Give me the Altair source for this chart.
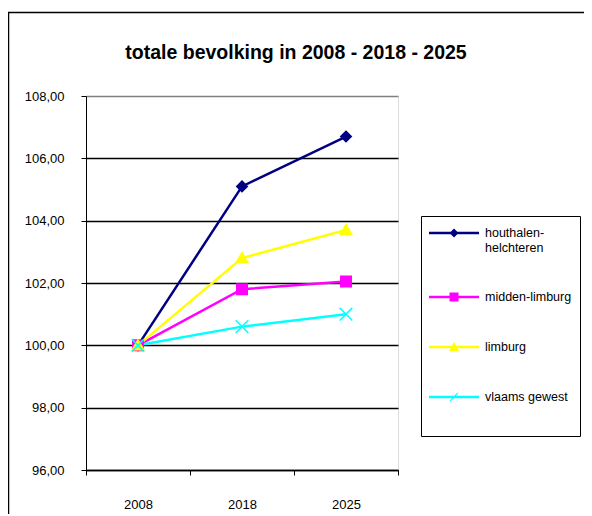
import altair as alt
import pandas as pd

# ---- data ----
years = ["2008", "2018", "2025"]
series = ["houthalen-helchteren", "midden-limburg", "limburg", "vlaams gewest"]
houthalen = [100.0, 105.1, 106.7]
midden = [100.0, 101.8, 102.05]
limburg = [100.0, 102.8, 103.7]
vlaams = [100.0, 100.6, 101.0]
y_ticks = [96, 98, 100, 102, 104, 106, 108]

# ---- styles ----
colors = ["#000080", "#FF00FF", "#FFFF00", "#00FFFF"]
marker_paths = [
    "M0,-1L1,0L0,1L-1,0Z",
    "M-1,-1H1V1H-1Z",
    "M0,-1.05L1.1,0.85H-1.1Z",
    "M-1.2,-1.2L1.2,1.2M-1.2,1.2L1.2,-1.2",
]
LINE = "M-1,-0.14H4.56V0.14H-1Z "
legend_paths = [
    LINE + "M1.78,-0.5L2.28,0L1.78,0.5L1.28,0Z",
    LINE + "M1.28,-0.5H2.28V0.5H1.28Z",
    LINE + "M1.78,-0.55L2.33,0.45H1.23Z",
    LINE + "M1.37,-0.408L2.232,0.492L2.148,0.408L1.288,-0.492Z "
           "M2.232,-0.408L1.372,0.492L1.288,0.408L2.148,-0.492Z",
]
FONT = "Liberation Sans"

rows = []
for s, vals in zip(series, [houthalen, midden, limburg, vlaams]):
    for yr, v in zip(years, vals):
        rows.append({"jaar": yr, "reeks": s, "reeks_l": s, "waarde": v})
df = pd.DataFrame(rows)

x_enc = alt.X(
    "jaar:N",
    sort=years,
    bandPosition=0.5,
    scale=alt.Scale(type="band", paddingInner=0, paddingOuter=0),
    axis=alt.Axis(
        title=None, labelAngle=0, tickBand="extent", grid=False,
        domainColor="#000000", domainWidth=1.5, tickColor="#000000",
        tickSize=5, tickWidth=1, labelFont=FONT, labelFontSize=13,
        labelColor="#000000", labelPadding=23,
    ),
)
y_enc = alt.Y(
    "waarde:Q",
    scale=alt.Scale(domain=[96, 108], nice=False, zero=False),
    axis=alt.Axis(
        title=None, values=y_ticks,
        labelExpr="replace(format(datum.value, '.2f'), '.', ',')",
        domainColor="#000000", domainWidth=1, tickColor="#000000",
        tickSize=5, labelFont=FONT, labelFontSize=13, labelColor="#000000",
        labelPadding=17, grid=True, gridWidth=1.5,
        gridColor={"condition": {"test": "datum.value >= 108", "value": "#808080"},
                   "value": "#000000"},
    ),
)

base = alt.Chart(df)
one = pd.DataFrame({"k": [0]})

frame_top = alt.Chart(one).mark_rule(stroke="#000000", strokeWidth=1.5).encode(
    x=alt.value(-78), x2=alt.value(498), y=alt.value(-83.5)
)
frame_left = alt.Chart(one).mark_rule(stroke="#000000", strokeWidth=1.5).encode(
    x=alt.value(-77.5), y=alt.value(-84), y2=alt.value(418)
)

lines = base.mark_line(strokeWidth=2.5).encode(
    x=x_enc, y=y_enc,
    color=alt.Color("reeks:N", scale=alt.Scale(domain=series, range=colors), legend=None),
    detail="reeks:N",
)

points = base.mark_point(filled=True, opacity=1, size=110, strokeWidth=1.5).encode(
    x=x_enc, y=y_enc,
    fill=alt.Fill("reeks:N", scale=alt.Scale(domain=series, range=colors), legend=None),
    stroke=alt.Stroke("reeks:N", scale=alt.Scale(domain=series, range=colors), legend=None),
    shape=alt.Shape("reeks:N", scale=alt.Scale(domain=series, range=marker_paths), legend=None),
)

leg = dict(
    title=" ", titleOrient="bottom", titleFontSize=12, titlePadding=13,
    orient="none", legendX=335, legendY=120,
    fillColor="#FFFFFF", strokeColor="#000000", padding=8,
    labelFont=FONT, labelFontSize=12.5, labelColor="#000000", labelLimit=200,
    labelOffset=38, rowPadding=34, symbolSize=324, symbolStrokeWidth=0,
    symbolOpacity=1,
    labelExpr="datum.label == 'houthalen-helchteren' ? ['houthalen-', 'helchteren'] : datum.label",
)

legend_layer = base.mark_point(filled=True, opacity=0, size=10).encode(
    x=x_enc, y=y_enc,
    color=alt.Color("reeks_l:N", scale=alt.Scale(domain=series, range=colors),
                    legend=alt.Legend(**leg)),
    shape=alt.Shape("reeks_l:N", scale=alt.Scale(domain=series, range=legend_paths),
                    legend=alt.Legend(**leg)),
)

chart = alt.layer(frame_top, frame_left, lines, points, legend_layer).resolve_scale(
    color="independent", shape="independent"
).properties(
    width=312,
    height=374,
    padding={"left": 78, "top": 88, "right": 186, "bottom": 44},
    autosize=alt.AutoSizeParams(type="none"),
    title=alt.TitleParams(
        "totale bevolking in 2008 - 2018 - 2025",
        font=FONT, fontSize=19.5, fontWeight="bold", color="#000000",
        anchor="middle", dx=54, dy=67, offset=0, baseline="alphabetic",
    ),
).configure_view(
    fill="#C0C0C0", stroke="#808080", strokeWidth=1
).configure(background="#FFFFFF")

chart.save("out.html", embed_options={"renderer": "svg", "actions": False})
